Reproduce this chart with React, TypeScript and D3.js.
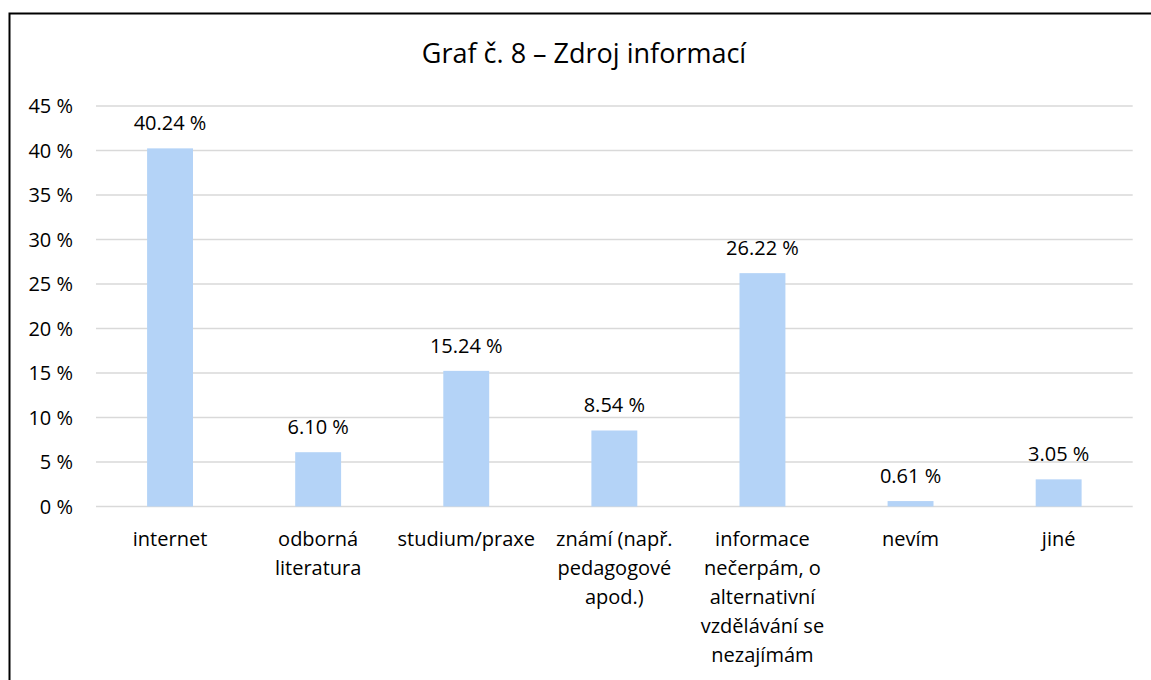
import React, { useEffect, useRef } from "react";
import * as d3 from "d3";

const categories: string[][] = [
  ["internet"],
  ["odborná", "literatura"],
  ["studium/praxe"],
  ["známí (např.", "pedagogové", "apod.)"],
  ["informace", "nečerpám, o", "alternativní", "vzdělávání se", "nezajímám"],
  ["nevím"],
  ["jiné"],
];
const values: number[] = [40.24, 6.1, 15.24, 8.54, 26.22, 0.61, 3.05];
const yTicks: number[] = [0, 5, 10, 15, 20, 25, 30, 35, 40, 45];
const title = "Graf č. 8 – Zdroj informací";

const W = 1151;
const H = 680;
const FONT = "'Open Sans', 'Noto Sans', sans-serif";
const FS = 20;

export default function App() {
  const ref = useRef<SVGSVGElement>(null);
  useEffect(() => {
    const svg = d3.select(ref.current);
    svg.selectAll("*").remove();

    svg.append("rect").attr("x", 9.5).attr("y", 13.5).attr("width", W + 20).attr("height", H + 20)
      .attr("fill", "white").attr("stroke", "#000").attr("stroke-width", 2);

    const left = 96, right = 1132.7, top = 106, bottom = 506.5;
    const labels = categories.map((c) => c.join(" "));
    const x = d3.scaleBand<string>().domain(labels).range([left, right]).paddingInner(0.69).paddingOuter(0.345);
    const y = d3.scaleLinear().domain([0, 45]).range([bottom, top]);

    svg.append("text").attr("x", 584).attr("y", 63).attr("text-anchor", "middle")
      .attr("font-family", FONT).attr("font-size", 27).attr("fill", "#000").text(title);

    const g = svg.append("g");
    g.selectAll("line.grid").data(yTicks).enter().append("line")
      .attr("x1", left).attr("x2", right)
      .attr("y1", (d) => y(d)).attr("y2", (d) => y(d))
      .attr("stroke", "#d9d9d9").attr("stroke-width", 1.5);

    g.selectAll("text.ytick").data(yTicks).enter().append("text")
      .attr("x", 73).attr("y", (d) => y(d)).attr("dy", "0.35em")
      .attr("text-anchor", "end").attr("font-family", FONT).attr("font-size", FS).attr("fill", "#000")
      .text((d) => `${d} %`);

    g.selectAll("rect.bar").data(values).enter().append("rect")
      .attr("x", (_, i) => x(labels[i])!)
      .attr("width", x.bandwidth())
      .attr("y", (d) => y(d))
      .attr("height", (d) => bottom - y(d))
      .attr("fill", "#b4d3f7");

    g.selectAll("text.val").data(values).enter().append("text")
      .attr("x", (_, i) => x(labels[i])! + x.bandwidth() / 2)
      .attr("y", (d) => y(d) - 18)
      .attr("text-anchor", "middle").attr("font-family", FONT).attr("font-size", FS).attr("fill", "#000")
      .text((d) => `${d.toFixed(2)} %`);

    categories.forEach((lines, i) => {
      const cx = x(labels[i])! + x.bandwidth() / 2;
      const t = g.append("text")
        .attr("text-anchor", "middle").attr("font-family", FONT).attr("font-size", FS).attr("fill", "#000");
      lines.forEach((ln, j) => {
        t.append("tspan").attr("x", cx).attr("y", 545.5 + j * 29).text(ln);
      });
    });
  }, []);
  return <svg ref={ref} width={W} height={H} style={{ display: "block", position: "absolute", left: 0, top: 0 }} />;
}
